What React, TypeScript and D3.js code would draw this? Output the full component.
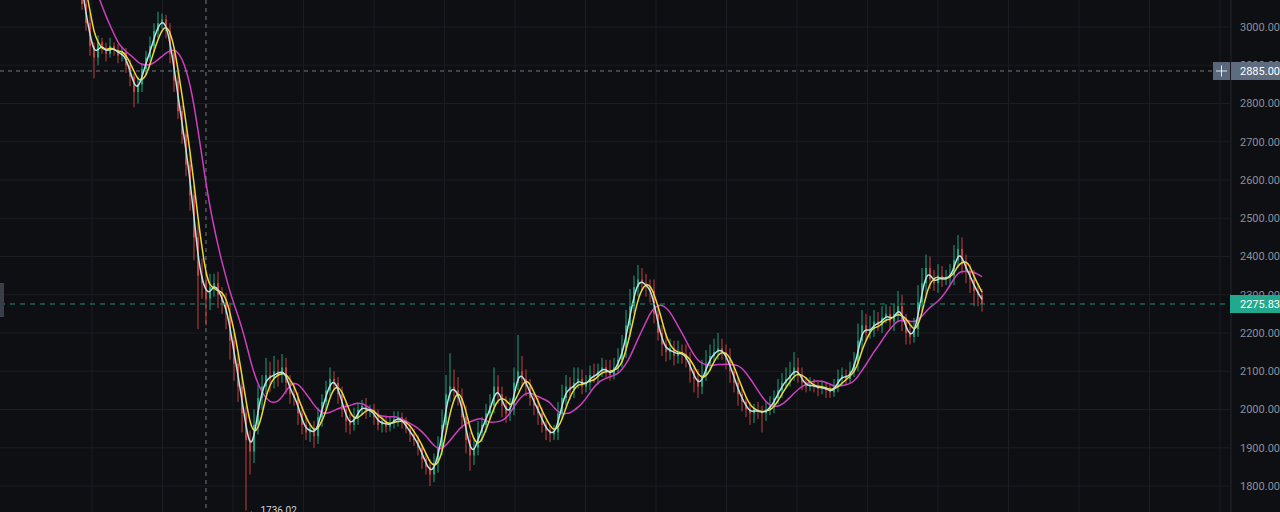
import React from "react";
import * as d3 from "d3";

// ---------- DATA ----------
const priorCloses = [3280, 3260, 3250, 3230, 3220, 3200, 3190, 3170, 3150];

const closes = [
  3060, 3010, 2950, 2920, 2960, 2945, 2930, 2950, 2940, 2925,
  2935, 2900, 2870, 2830, 2850, 2890, 2920, 2950, 2990, 3010,
  3020, 2990, 2930, 2860, 2780, 2720, 2640, 2560, 2450, 2350,
  2330, 2290, 2320, 2330, 2300, 2280, 2250, 2180, 2120, 2060,
  1990, 1920, 1890, 1960, 2030, 2060, 2090, 2080, 2100, 2090,
  2110, 2070, 2040, 2030, 1990, 1960, 1940, 1950, 1930, 1980,
  2020, 2050, 2080, 2070, 2040, 2000, 1970, 1960, 1980, 2000,
  2010, 1995, 2000, 1980, 1960, 1970, 1955, 1965, 1975, 1980,
  1965, 1950, 1935, 1920, 1900, 1870, 1850, 1830, 1860, 1900,
  1960, 2040, 2060, 2050, 2030, 1980, 1920, 1880, 1900, 1940,
  1960, 1990, 2010, 2060, 2040, 2010, 1990, 2000, 2070, 2100,
  2080, 2060, 2030, 2010, 1990, 1960, 1945, 1935, 1940, 1990,
  2030, 2060, 2050, 2070, 2080, 2060, 2070, 2090, 2085, 2100,
  2110, 2100, 2090, 2110, 2130, 2160, 2220, 2270, 2320, 2340,
  2330, 2320, 2310, 2250, 2200, 2170, 2150, 2160, 2140, 2150,
  2145, 2130, 2100, 2080, 2060, 2090, 2120, 2140, 2150, 2160,
  2150, 2130, 2100, 2070, 2040, 2020, 2000, 1990, 2000, 1995,
  1990, 2000, 2010, 2030, 2050, 2070, 2080, 2090, 2110, 2090,
  2070, 2060, 2065, 2060, 2055, 2060, 2050, 2045, 2060, 2080,
  2090, 2080, 2100, 2120, 2180, 2220, 2200, 2210, 2230, 2220,
  2240, 2250, 2230, 2250, 2270, 2230, 2200, 2190, 2210, 2280,
  2330, 2370, 2340, 2330, 2350, 2340, 2345, 2350, 2390, 2420,
  2380, 2360, 2340, 2310, 2300, 2275.83,
];

const wickUp = [
  20, 15, 25, 10, 18, 12, 14, 22, 10, 15,
  12, 10, 15, 8, 20, 15, 18, 25, 20, 30,
  15, 12, 20, 10, 25, 15, 20, 30, 25, 40,
  45, 30, 35, 25, 30, 20, 25, 30, 20, 25,
  30, 20, 25, 40, 35, 30, 45, 35, 40, 30,
  35, 25, 20, 30, 15, 20, 25, 15, 20, 25,
  20, 25, 30, 20, 15, 20, 15, 20, 25, 15,
  15, 20, 12, 15, 20, 12, 15, 18, 20, 15,
  12, 15, 10, 15, 12, 10, 15, 20, 25, 30,
  40, 50, 87, 45, 35, 25, 30, 20, 25, 30,
  20, 25, 30, 50, 30, 20, 25, 30, 40, 95,
  40, 25, 20, 15, 20, 15, 10, 15, 20, 30,
  35, 30, 25, 40, 30, 25, 20, 25, 30, 20,
  25, 20, 30, 25, 30, 35, 40, 45, 30, 38,
  30, 25, 20, 30, 25, 20, 30, 25, 20, 30,
  20, 25, 20, 15, 25, 40, 35, 30, 35, 40,
  25, 20, 30, 20, 15, 20, 15, 20, 15, 20,
  15, 20, 25, 20, 30, 25, 30, 35, 40, 25,
  20, 15, 20, 15, 12, 15, 10, 15, 20, 25,
  20, 15, 25, 30, 45, 40, 30, 35, 30, 25,
  30, 25, 20, 25, 40, 30, 20, 25, 30, 45,
  40, 35, 30, 25, 30, 25, 20, 30, 40, 36,
  30, 25, 20, 25, 20, 15,
];

const wickDn = [
  15, 20, 25, 54, 20, 15, 20, 10, 15, 20,
  15, 20, 25, 40, 30, 20, 15, 10, 15, 20,
  15, 20, 25, 30, 20, 25, 30, 40, 60, 140,
  40, 70, 30, 25, 35, 30, 40, 50, 45, 40,
  50, 184, 60, 30, 25, 30, 20, 35, 25, 30,
  20, 30, 25, 20, 30, 25, 20, 25, 30, 20,
  25, 20, 15, 20, 25, 20, 30, 25, 15, 20,
  15, 20, 15, 20, 15, 20, 15, 12, 15, 20,
  15, 12, 20, 15, 20, 25, 20, 30, 20, 25,
  20, 15, 20, 25, 20, 30, 35, 40, 25, 20,
  25, 20, 15, 20, 25, 30, 25, 20, 15, 20,
  20, 25, 20, 25, 30, 20, 25, 20, 15, 20,
  15, 20, 25, 20, 15, 20, 15, 20, 15, 20,
  15, 20, 15, 12, 15, 20, 25, 30, 20, 25,
  20, 25, 30, 25, 20, 30, 25, 20, 25, 20,
  25, 20, 30, 35, 30, 20, 15, 20, 15, 20,
  20, 25, 30, 25, 30, 25, 20, 30, 25, 20,
  50, 20, 15, 20, 15, 20, 15, 20, 15, 20,
  20, 15, 12, 15, 20, 15, 20, 15, 12, 15,
  20, 15, 12, 15, 20, 25, 20, 15, 20, 15,
  20, 15, 20, 25, 20, 25, 30, 20, 15, 20,
  25, 30, 25, 20, 25, 20, 15, 20, 25, 20,
  25, 30, 35, 40, 30, 20,
];

const priceTicks = [1800, 1900, 2000, 2100, 2200, 2300, 2400, 2500, 2600, 2700, 2800, 2900, 3000];
const maPeriods = [2, 4, 10];
const maColors = ["#b9e4e0", "#ecd936", "#cc3fbf"];
const crosshairPrice = 2885.0;
const lastPrice = 2275.83;
const lowPrice = 1736.02;
const lowIndex = 41;
const crosshairIndex = 31;

// ---------- LAYOUT ----------
const W = 1280;
const H = 512;
const plotRight = 1231;
const BG = "#0e0f13";
const GRID = "#1b1d23";
const UP = "#1fa27e";
const DOWN = "#c2413e";

function sma(all: number[], period: number, offset: number) {
  const out: number[] = [];
  for (let i = offset; i < all.length; i++) {
    const s = all.slice(Math.max(0, i - period + 1), i + 1);
    out.push(d3.mean(s) as number);
  }
  return out;
}

export default function App() {
  const y = d3.scaleLinear().domain([1800, 3000]).range([486, 27]);
  const x = d3.scaleLinear().domain([0, closes.length - 1]).range([82, 982]);
  const step = x(1) - x(0);
  const bodyW = Math.max(1, step * 0.5);

  const candles = closes.map((c, i) => {
    const o = i === 0 ? priorCloses[priorCloses.length - 1] : closes[i - 1];
    const hi = Math.max(o, c) + wickUp[i];
    const lo = Math.min(o, c) - wickDn[i];
    return { o, c, hi, lo, i };
  });

  const all = [...priorCloses, ...closes];
  const mas = maPeriods.map((p) => sma(all, p, priorCloses.length));
  const line = d3
    .line<number>()
    .x((_, i) => x(i))
    .y((v) => y(v))
    .curve(d3.curveBasis);

  const vGrid = d3.range(0, 17).map((k) => 92 + k * 70.5);
  const font = "Roboto, 'Noto Sans', sans-serif";

  return (
    <svg
      width={W}
      height={H}
      style={{ position: "fixed", left: 0, top: 0, display: "block", background: BG }}
    >
      <rect x={0} y={0} width={W} height={H} fill={BG} />
      {/* grid */}
      {priceTicks.map((p) => (
        <line key={"h" + p} x1={0} x2={plotRight} y1={y(p)} y2={y(p)} stroke={GRID} strokeWidth={1} />
      ))}
      {vGrid.map((gx) => (
        <line key={"v" + gx} x1={gx} x2={gx} y1={0} y2={H} stroke={GRID} strokeWidth={1} />
      ))}
      <line x1={plotRight} x2={plotRight} y1={0} y2={H} stroke="#23262d" strokeWidth={1} />

      {/* crosshair vertical */}
      <line
        x1={x(crosshairIndex)}
        x2={x(crosshairIndex)}
        y1={0}
        y2={H}
        stroke="#8d929c"
        strokeWidth={1}
        strokeDasharray="4 4"
        opacity={0.8}
      />

      {/* candles */}
      <g>
        {candles.map((d) => {
          const col = d.c >= d.o ? UP : DOWN;
          const cx = x(d.i);
          const top = y(Math.max(d.o, d.c));
          const bot = y(Math.min(d.o, d.c));
          return (
            <g key={d.i}>
              <line x1={cx} x2={cx} y1={y(d.hi)} y2={y(d.lo)} stroke={col} strokeWidth={1} />
              <rect x={cx - bodyW / 2} y={top} width={bodyW} height={Math.max(1, bot - top)} fill={col} />
            </g>
          );
        })}
      </g>

      {/* moving averages */}
      {mas
        .slice()
        .reverse()
        .map((m, k) => {
          const idx = mas.length - 1 - k;
          return (
            <path key={idx} d={line(m) || ""} fill="none" stroke={maColors[idx]} strokeWidth={1.5} />
          );
        })}

      {/* last price line */}
      <line
        x1={0}
        x2={plotRight}
        y1={y(lastPrice)}
        y2={y(lastPrice)}
        stroke="#1f8f78"
        strokeWidth={1}
        strokeDasharray="5 5"
      />
      {/* crosshair horizontal */}
      <line
        x1={0}
        x2={1213}
        y1={y(crosshairPrice)}
        y2={y(crosshairPrice)}
        stroke="#8d929c"
        strokeWidth={1}
        strokeDasharray="4 4"
        opacity={0.8}
      />

      {/* low label */}
      <text
        x={x(lowIndex) + 2}
        y={y(lowPrice) + 4}
        fill="#d1d4dc"
        fontSize={10}
        fontFamily={font}
      >
        {"\u2190 " + lowPrice.toFixed(2)}
      </text>

      {/* left handle */}
      <rect x={0} y={283} width={4} height={34} fill="#3a3e47" />

      {/* axis labels */}
      {priceTicks.map((p) => (
        <text
          key={"t" + p}
          x={1240}
          y={y(p)}
          dy="0.35em"
          fill="#8b8f98"
          fontSize={11}
          fontFamily={font}
        >
          {p.toFixed(2)}
        </text>
      ))}

      {/* crosshair price label */}
      <rect x={1213} y={y(crosshairPrice) - 9} width={17} height={18} fill="#5a667a" />
      <line x1={1216} x2={1227} y1={y(crosshairPrice)} y2={y(crosshairPrice)} stroke="#e6e8ee" strokeWidth={1} />
      <line
        x1={1221.5}
        x2={1221.5}
        y1={y(crosshairPrice) - 5.5}
        y2={y(crosshairPrice) + 5.5}
        stroke="#e6e8ee"
        strokeWidth={1}
      />
      <rect x={1231} y={y(crosshairPrice) - 9} width={49} height={18} fill="#5f6c80" />
      <text
        x={1240}
        y={y(crosshairPrice)}
        dy="0.35em"
        fill="#ffffff"
        fontSize={11}
        fontFamily={font}
      >
        {crosshairPrice.toFixed(2)}
      </text>

      {/* last price label */}
      <rect x={1230} y={y(lastPrice) - 9} width={50} height={18} fill="#22a88c" />
      <text
        x={1240}
        y={y(lastPrice)}
        dy="0.35em"
        fill="#ffffff"
        fontSize={11}
        fontFamily={font}
      >
        {lastPrice.toFixed(2)}
      </text>
    </svg>
  );
}
